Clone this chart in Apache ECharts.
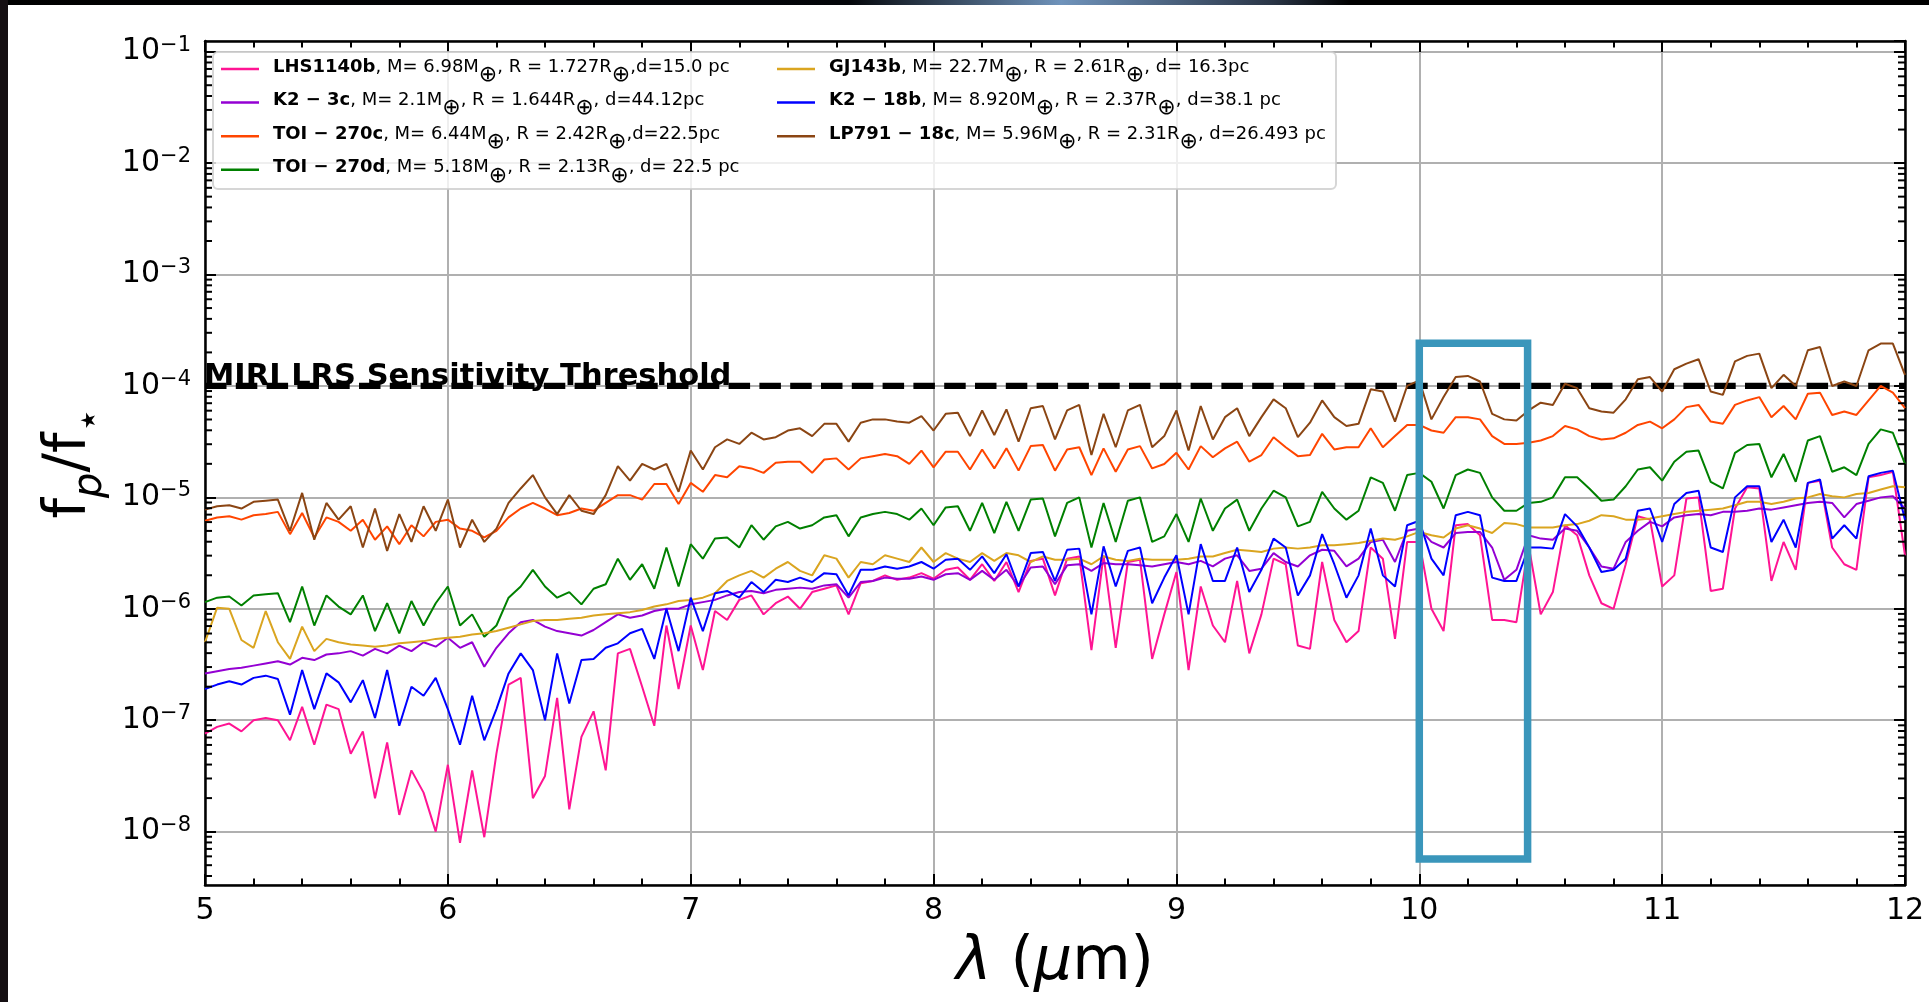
<!DOCTYPE html>
<html>
<head>
<meta charset="utf-8">
<title>Planet-to-star flux ratio, 5-12 micron</title>
<script src="https://cdn.jsdelivr.net/npm/echarts@6/dist/echarts.min.js"></script>
<style>
  html, body { margin: 0; padding: 0; background: #fff; }
  #chart { width: 1929px; height: 1002px; }
</style>
</head>
<body>
<div id="chart"></div>
<script>
(function () {
  'use strict';

  var wavelength = [
    5.00, 5.05, 5.10, 5.15, 5.20, 5.25, 5.30, 5.35, 5.40, 5.45,
    5.50, 5.55, 5.60, 5.65, 5.70, 5.75, 5.80, 5.85, 5.90, 5.95,
    6.00, 6.05, 6.10, 6.15, 6.20, 6.25, 6.30, 6.35, 6.40, 6.45,
    6.50, 6.55, 6.60, 6.65, 6.70, 6.75, 6.80, 6.85, 6.90, 6.95,
    7.00, 7.05, 7.10, 7.15, 7.20, 7.25, 7.30, 7.35, 7.40, 7.45,
    7.50, 7.55, 7.60, 7.65, 7.70, 7.75, 7.80, 7.85, 7.90, 7.95,
    8.00, 8.05, 8.10, 8.15, 8.20, 8.25, 8.30, 8.35, 8.40, 8.45,
    8.50, 8.55, 8.60, 8.65, 8.70, 8.75, 8.80, 8.85, 8.90, 8.95,
    9.00, 9.05, 9.10, 9.15, 9.20, 9.25, 9.30, 9.35, 9.40, 9.45,
    9.50, 9.55, 9.60, 9.65, 9.70, 9.75, 9.80, 9.85, 9.90, 9.95,
    10.00, 10.05, 10.10, 10.15, 10.20, 10.25, 10.30, 10.35, 10.40, 10.45,
    10.50, 10.55, 10.60, 10.65, 10.70, 10.75, 10.80, 10.85, 10.90, 10.95,
    11.00, 11.05, 11.10, 11.15, 11.20, 11.25, 11.30, 11.35, 11.40, 11.45,
    11.50, 11.55, 11.60, 11.65, 11.70, 11.75, 11.80, 11.85, 11.90, 11.95,
    12.00
  ];

  // log10(fp/f*), one value per wavelength
  var lhs1140b = [
    -7.12, -7.06, -7.03, -7.10, -7.00, -6.98, -7.00, -7.18, -6.88, -7.22,
    -6.86, -6.90, -7.30, -7.10, -7.70, -7.20, -7.85, -7.45, -7.65, -8.00,
    -7.40, -8.10, -7.45, -8.05, -7.30, -6.68, -6.62, -7.70, -7.50, -6.80,
    -7.80, -7.15, -6.92, -7.45, -6.40, -6.36, -6.70, -7.05, -6.15, -6.72,
    -6.15, -6.55, -6.02, -6.10, -5.92, -5.88, -6.05, -5.95, -5.89, -6.00,
    -5.85, -5.82, -5.79, -6.05, -5.77, -5.75, -5.70, -5.74, -5.72, -5.68,
    -5.73, -5.65, -5.63, -5.74, -5.60, -5.75, -5.58, -5.85, -5.57, -5.55,
    -5.88, -5.55, -5.53, -6.37, -5.52, -6.35, -5.58, -5.56, -6.45, -6.05,
    -5.67, -6.55, -5.80, -6.15, -6.30, -5.75, -6.40, -6.05, -5.55, -5.60,
    -6.33, -6.36, -5.58, -6.10, -6.30, -6.20, -5.45, -5.55, -6.27, -5.40,
    -5.40, -6.00, -6.20, -5.25, -5.24, -5.34, -6.10, -6.10, -6.12, -5.43,
    -6.05, -5.85, -5.25, -5.34, -5.70, -5.95, -6.00, -5.60, -5.17, -5.20,
    -5.80, -5.70, -5.01, -5.00, -5.84, -5.82, -5.10, -4.91, -4.92, -5.75,
    -5.40, -5.65, -4.87, -4.85, -5.45, -5.60, -5.65, -4.82, -4.80, -4.77,
    -5.52
  ];
  var k23c = [
    -6.58, -6.56, -6.54, -6.53, -6.51, -6.49, -6.47, -6.50, -6.44, -6.46,
    -6.41, -6.40, -6.38, -6.42, -6.36, -6.40, -6.33, -6.38, -6.30, -6.34,
    -6.26, -6.35, -6.30, -6.52, -6.35, -6.22, -6.12, -6.10, -6.16, -6.20,
    -6.22, -6.24, -6.19, -6.12, -6.05, -6.08, -6.06, -6.02, -6.00, -6.00,
    -5.96, -5.94, -5.92, -5.88, -5.85, -5.84, -5.86, -5.83, -5.82, -5.81,
    -5.82, -5.79, -5.78, -5.90, -5.76, -5.75, -5.72, -5.73, -5.73, -5.71,
    -5.74, -5.69, -5.68, -5.74, -5.66, -5.74, -5.65, -5.80, -5.63, -5.62,
    -5.78, -5.61, -5.60, -5.66, -5.59, -5.60, -5.60, -5.61, -5.62, -5.60,
    -5.58, -5.60, -5.57, -5.62, -5.55, -5.52, -5.66, -5.64, -5.50, -5.58,
    -5.62, -5.52, -5.47, -5.48, -5.62, -5.55, -5.40, -5.38, -5.58, -5.30,
    -5.28, -5.40, -5.45, -5.32, -5.31, -5.31, -5.45, -5.74, -5.65, -5.34,
    -5.37, -5.38, -5.28, -5.30, -5.45, -5.62, -5.64, -5.40, -5.30, -5.22,
    -5.26, -5.18, -5.16, -5.15, -5.16, -5.13, -5.13, -5.12, -5.10, -5.11,
    -5.09, -5.07, -5.05, -5.04, -5.05, -5.18, -5.06, -5.03, -5.00, -4.99,
    -5.10
  ];
  var toi270c = [
    -5.21, -5.18, -5.17, -5.20, -5.16, -5.15, -5.13, -5.33, -5.14, -5.36,
    -5.18, -5.22, -5.30, -5.20, -5.38, -5.26, -5.42, -5.25, -5.35, -5.22,
    -5.20, -5.28, -5.30, -5.36, -5.30, -5.18, -5.10, -5.05, -5.10, -5.16,
    -5.14, -5.10, -5.12, -5.05, -4.98, -4.98, -5.02, -4.88, -4.88, -5.06,
    -4.87, -4.95, -4.80, -4.82, -4.72, -4.74, -4.78, -4.69, -4.68, -4.68,
    -4.78, -4.66, -4.65, -4.75, -4.65, -4.63, -4.61, -4.63, -4.70, -4.58,
    -4.73, -4.59, -4.59, -4.75, -4.57, -4.74, -4.56, -4.76, -4.54, -4.53,
    -4.76, -4.57, -4.55, -4.80, -4.56, -4.77, -4.57, -4.54, -4.74, -4.70,
    -4.60, -4.75, -4.54, -4.64, -4.56, -4.50, -4.68, -4.62, -4.46, -4.55,
    -4.63, -4.62, -4.43, -4.57, -4.55, -4.55, -4.38, -4.55, -4.45, -4.35,
    -4.35, -4.40, -4.42, -4.28, -4.28, -4.30, -4.45, -4.52, -4.52, -4.51,
    -4.49, -4.45, -4.36, -4.39, -4.45, -4.48, -4.47, -4.42, -4.35, -4.32,
    -4.38, -4.30, -4.19, -4.17, -4.32, -4.34, -4.17, -4.13, -4.10, -4.28,
    -4.18, -4.30, -4.07, -4.06, -4.26, -4.23, -4.26, -4.13, -4.00, -4.06,
    -4.20
  ];
  var toi270d = [
    -5.94, -5.90, -5.89, -5.97, -5.88, -5.87, -5.86, -6.12, -5.80, -6.15,
    -5.88, -5.98, -6.05, -5.88, -6.20, -5.95, -6.22, -5.93, -6.15, -5.95,
    -5.80, -6.15, -6.05, -6.25, -6.15, -5.90, -5.80, -5.65, -5.80, -5.90,
    -5.85, -5.96, -5.82, -5.78, -5.55, -5.74, -5.60, -5.82, -5.45, -5.80,
    -5.42, -5.55, -5.37, -5.36, -5.45, -5.25, -5.38, -5.26, -5.22, -5.28,
    -5.25, -5.18, -5.16, -5.35, -5.18, -5.15, -5.13, -5.15, -5.20, -5.10,
    -5.25, -5.09, -5.08, -5.30, -5.05, -5.32, -5.04, -5.30, -5.02, -5.01,
    -5.35, -5.05, -5.00, -5.45, -5.05, -5.40, -5.03, -5.00, -5.40, -5.35,
    -5.15, -5.40, -5.01, -5.30, -5.10, -5.02, -5.30, -5.10, -4.94, -5.00,
    -5.26, -5.22, -4.95, -5.10, -5.20, -5.12, -4.82, -4.87, -5.12, -4.80,
    -4.78, -4.86, -5.10, -4.80, -4.75, -4.78, -5.00, -5.12, -5.12, -5.05,
    -5.04, -5.00, -4.82, -4.82, -4.92, -5.03, -5.02, -4.90, -4.75, -4.73,
    -4.85, -4.68, -4.59, -4.58, -4.86, -4.92, -4.60, -4.53, -4.52, -4.82,
    -4.61, -4.86, -4.49, -4.45, -4.77, -4.73, -4.80, -4.52, -4.39, -4.42,
    -4.70
  ];
  var gj143b = [
    -6.30, -5.99, -6.00, -6.28, -6.35, -6.02, -6.30, -6.45, -6.16, -6.38,
    -6.27, -6.30, -6.32, -6.33, -6.34, -6.33, -6.31, -6.30, -6.29, -6.27,
    -6.26, -6.25, -6.23, -6.22, -6.20, -6.17, -6.14, -6.11, -6.10, -6.10,
    -6.09, -6.08, -6.06, -6.05, -6.04, -6.03, -6.01, -5.98, -5.96, -5.93,
    -5.92, -5.90, -5.86, -5.75, -5.70, -5.66, -5.72, -5.64, -5.58, -5.66,
    -5.70, -5.52, -5.55, -5.72, -5.58, -5.60, -5.52, -5.55, -5.58, -5.45,
    -5.58, -5.50, -5.55, -5.58, -5.50, -5.57, -5.50, -5.52, -5.58, -5.53,
    -5.56, -5.56, -5.55, -5.60, -5.53, -5.56, -5.57, -5.55, -5.56, -5.56,
    -5.56, -5.55, -5.53, -5.53, -5.50, -5.47, -5.48, -5.49, -5.46, -5.45,
    -5.46, -5.45, -5.43, -5.43, -5.42, -5.41, -5.39, -5.37, -5.38, -5.35,
    -5.31, -5.34, -5.36, -5.28, -5.25, -5.28, -5.32, -5.23, -5.24, -5.27,
    -5.27, -5.27, -5.25, -5.24, -5.21, -5.16, -5.17, -5.20, -5.20, -5.19,
    -5.17, -5.15, -5.13, -5.12, -5.11, -5.10, -5.07, -5.04, -5.04, -5.06,
    -5.04, -5.01, -5.00, -4.97, -4.99, -5.00, -4.97, -4.96, -4.93, -4.90,
    -4.91
  ];
  var k218b = [
    -6.72, -6.68, -6.65, -6.68, -6.62, -6.60, -6.63, -6.95, -6.55, -6.90,
    -6.58, -6.66, -6.84, -6.64, -6.98, -6.55, -7.05, -6.70, -6.78, -6.62,
    -6.90, -7.22, -6.78, -7.18, -6.90, -6.58, -6.40, -6.55, -7.00, -6.40,
    -6.85, -6.46, -6.45, -6.35, -6.31, -6.22, -6.18, -6.45, -6.00, -6.38,
    -5.90, -6.20, -5.86, -5.84, -5.90, -5.76, -5.85, -5.74, -5.76, -5.72,
    -5.76, -5.68, -5.69, -5.88, -5.65, -5.65, -5.62, -5.64, -5.62, -5.58,
    -5.64, -5.56, -5.55, -5.65, -5.53, -5.68, -5.51, -5.80, -5.50, -5.49,
    -5.75, -5.47, -5.46, -6.05, -5.44, -5.80, -5.48, -5.45, -5.95, -5.72,
    -5.52, -6.05, -5.42, -5.75, -5.75, -5.45, -5.85, -5.65, -5.37, -5.45,
    -5.88, -5.70, -5.33, -5.60, -5.90, -5.70, -5.28, -5.70, -5.80, -5.25,
    -5.21, -5.55, -5.70, -5.16, -5.13, -5.16, -5.72, -5.75, -5.75, -5.45,
    -5.45, -5.46, -5.15, -5.26, -5.45, -5.67, -5.65, -5.55, -5.12, -5.10,
    -5.40, -5.06, -4.96, -4.94, -5.45, -5.49, -5.00, -4.90, -4.90, -5.40,
    -5.20, -5.45, -4.87, -4.84, -5.37, -5.25, -5.37, -4.81, -4.78, -4.76,
    -5.20
  ];
  var lp79118c = [
    -5.11, -5.08, -5.07, -5.10, -5.04, -5.03, -5.02, -5.30, -4.96, -5.38,
    -5.05, -5.20, -5.08, -5.45, -5.10, -5.48, -5.15, -5.40, -5.08, -5.30,
    -5.02, -5.45, -5.20, -5.40, -5.28, -5.05, -4.92, -4.80, -5.00, -5.15,
    -4.98, -5.12, -5.15, -4.98, -4.72, -4.85, -4.70, -4.75, -4.70, -4.95,
    -4.58, -4.75, -4.55, -4.48, -4.52, -4.42, -4.48, -4.46, -4.40, -4.38,
    -4.45, -4.34, -4.34, -4.50, -4.33, -4.30, -4.30, -4.32, -4.33, -4.27,
    -4.40, -4.25, -4.24, -4.45, -4.22, -4.44, -4.21, -4.50, -4.20, -4.18,
    -4.48, -4.22, -4.17, -4.62, -4.25, -4.55, -4.22, -4.17, -4.55, -4.45,
    -4.22, -4.58, -4.18, -4.48, -4.28, -4.20, -4.45, -4.28, -4.12, -4.20,
    -4.46, -4.33, -4.13, -4.28, -4.36, -4.34, -4.03, -4.05, -4.32, -4.00,
    -3.95, -4.30, -4.10, -3.92, -3.91, -3.96, -4.25, -4.30, -4.31, -4.22,
    -4.15, -4.17, -3.98, -4.02, -4.20, -4.23, -4.24, -4.12, -3.94, -3.92,
    -4.05, -3.85, -3.80, -3.76, -4.05, -4.08, -3.78, -3.73, -3.71, -4.02,
    -3.90, -4.00, -3.68, -3.65, -4.00, -3.96, -4.00, -3.68, -3.62, -3.62,
    -3.90
  ];

  var planetNames = ['LHS1140b', 'K2-3c', 'TOI-270c', 'TOI-270d', 'GJ143b', 'K2-18b', 'LP791-18c'];
  var planetSpectra = [lhs1140b, k23c, toi270c, toi270d, gj143b, k218b, lp79118c];
  var planetColors = ['#ff1493', '#9400d3', '#ff4500', '#008000', '#daa520', '#0000ff', '#8b4513'];
  var legendLabels = [
    '{b|LHS1140b}{t|, M= 6.98M}{o|⊕}{t|, R = 1.727R}{o|⊕}{t|,d=15.0 pc}',
    '{b|K2 − 3c}{t|, M= 2.1M}{o|⊕}{t|, R = 1.644R}{o|⊕}{t|, d=44.12pc}',
    '{b|TOI − 270c}{t|, M= 6.44M}{o|⊕}{t|, R = 2.42R}{o|⊕}{t|,d=22.5pc}',
    '{b|TOI − 270d}{t|, M= 5.18M}{o|⊕}{t|, R = 2.13R}{o|⊕}{t|, d= 22.5 pc}',
    '{b|GJ143b}{t|, M= 22.7M}{o|⊕}{t|, R = 2.61R}{o|⊕}{t|, d= 16.3pc}',
    '{b|K2 − 18b}{t|, M= 8.920M}{o|⊕}{t|, R = 2.37R}{o|⊕}{t|, d=38.1 pc}',
    '{b|LP791 − 18c}{t|, M= 5.96M}{o|⊕}{t|, R = 2.31R}{o|⊕}{t|, d=26.493 pc}'
  ];

  var thresholdFlux = 1e-4;
  var thresholdLabel = 'MIRI LRS Sensitivity Threshold';
  // highlighted window: [lambda left, flux top, lambda right, flux bottom]
  var highlightBox = [10.0, 2.42e-4, 10.446, 5.67e-9];

  var xMin = 5;
  var xMax = 12;
  var fluxMin = 3.32e-9;
  var fluxMax = 0.1247;
  var minorMantissas = [2, 3, 4, 5, 6, 7, 8, 9];
  var minorDecades = [-9, -8, -7, -6, -5, -4, -3, -2];

  var FONT = 'DejaVu Sans';

  function toPoints(exps) {
    var pts = [];
    for (var i = 0; i < wavelength.length; i++) {
      pts.push([wavelength[i], Math.pow(10, exps[i])]);
    }
    return pts;
  }

  var minorTickData = [];
  minorDecades.forEach(function (d) {
    minorMantissas.forEach(function (m) {
      var v = m * Math.pow(10, d);
      if (v > fluxMin && v < fluxMax) {
        minorTickData.push([xMin, v]);
      }
    });
  });

  function renderMinorTick(params, api) {
    var l = api.coord([xMin, api.value(1)]);
    var r = api.coord([xMax, api.value(1)]);
    var st = { stroke: '#000', lineWidth: 2 };
    return {
      type: 'group',
      children: [
        { type: 'line', shape: { x1: l[0], y1: l[1], x2: l[0] + 7, y2: l[1] }, style: st },
        { type: 'line', shape: { x1: r[0] - 7, y1: r[1], x2: r[0], y2: r[1] }, style: st }
      ]
    };
  }

  function renderBox(params, api) {
    var a = api.coord([api.value(0), api.value(1)]);
    var b = api.coord([api.value(2), api.value(3)]);
    return {
      type: 'rect',
      shape: { x: a[0], y: a[1], width: b[0] - a[0], height: b[1] - a[1] },
      style: { fill: 'none', stroke: '#3a96bb', lineWidth: 7.5 }
    };
  }

  function decadeLabel(v) {
    var e = Math.round(Math.log(v) / Math.LN10);
    return '{b|10}{s|' + (e < 0 ? '\u2212' : '') + Math.abs(e) + '}';
  }

  var legendRich = {
    b: { fontFamily: FONT, fontWeight: 'bold', fontSize: 18, lineHeight: 22, verticalAlign: 'top', padding: [0, 0, 0, 9], color: '#000' },
    t: { fontFamily: FONT, fontSize: 18, lineHeight: 22, verticalAlign: 'top', color: '#000' },
    o: { fontFamily: FONT, fontSize: 22, lineHeight: 22, verticalAlign: 'top', padding: [6, 0, 0, 0], color: '#000' }
  };

  function makeLegend(names, left) {
    return {
      data: names.map(function (n) { return { name: n, icon: 'rect' }; }),
      orient: 'vertical',
      left: left,
      top: 58,
      padding: 0,
      itemGap: 5.6,
      itemWidth: 38,
      itemHeight: 2.5,
      selectedMode: false,
      z: 10,
      formatter: function (name) {
        return legendLabels[planetNames.indexOf(name)];
      },
      textStyle: { fontFamily: FONT, fontSize: 18, rich: legendRich }
    };
  }

  var series = planetNames.map(function (name, i) {
    return {
      name: name,
      type: 'line',
      data: toPoints(planetSpectra[i]),
      symbol: 'none',
      showSymbol: false,
      color: planetColors[i],
      lineStyle: { color: planetColors[i], width: 2 },
      z: 3,
      silent: true,
      emphasis: { disabled: true }
    };
  });

  series.unshift({
    name: 'threshold',
    type: 'line',
    data: [[xMin, thresholdFlux], [xMax, thresholdFlux]],
    symbol: 'none',
    showSymbol: false,
    lineStyle: { color: '#000', width: 6.2, type: [21.5, 9.3] },
    z: 2,
    silent: true
  });

  series.push({
    type: 'custom',
    name: 'window',
    renderItem: renderBox,
    encode: { x: [0, 2], y: [1, 3] },
    data: [highlightBox],
    z: 8,
    silent: true,
    clip: false
  });

  series.push({
    type: 'custom',
    name: 'minor ticks',
    renderItem: renderMinorTick,
    data: minorTickData,
    z: 9,
    silent: true,
    clip: false
  });

  var tickStyle = { color: '#000', width: 2 };
  var spine = { show: true, onZero: false, lineStyle: { color: '#000', width: 2.5 } };

  var graphics = [{
    type: 'rect',
    z: 5,
    shape: { x: 213, y: 52, width: 1123, height: 137, r: 5 },
    style: { fill: 'rgba(255,255,255,0.8)', stroke: 'rgba(204,204,204,0.8)', lineWidth: 2 }
  }, {
    type: 'rect',
    z: 100,
    shape: { x: 0, y: 0, width: 1929, height: 5 },
    style: {
      fill: {
        type: 'linear', x: 0, y: 0, x2: 1, y2: 0,
        colorStops: [
          { offset: 0, color: '#000' },
          { offset: 0.44, color: '#04060a' },
          { offset: 0.55, color: '#6f93bb' },
          { offset: 0.66, color: '#2a3546' },
          { offset: 0.7, color: '#000' },
          { offset: 1, color: '#000' }
        ]
      }
    }
  }, {
    type: 'rect',
    z: 100,
    shape: { x: 0, y: 0, width: 8, height: 1002 },
    style: { fill: '#150f12' }
  }];

  var option = {
    animation: false,
    backgroundColor: '#fff',
    textStyle: { fontFamily: FONT },
    grid: { left: 205, top: 41, width: 1700, height: 844 },
    legend: [makeLegend(planetNames.slice(0, 4), 221), makeLegend(planetNames.slice(4), 777)],
    xAxis: [{
      type: 'value',
      min: xMin,
      max: xMax,
      interval: 1,
      position: 'bottom',
      axisLine: spine,
      axisTick: { show: true, inside: true, length: 11, lineStyle: tickStyle },
      minorTick: { show: true, splitNumber: 5, length: 6.5, lineStyle: tickStyle },
      splitLine: { show: true, lineStyle: { color: '#b0b0b0', width: 2 } },
      axisLabel: { color: '#000', fontFamily: FONT, fontSize: 30, margin: 11 },
      name: '{i|λ}{n| (}{i|μ}{n|m)}',
      nameLocation: 'middle',
      nameGap: 48,
      nameTextStyle: {
        rich: {
          i: { fontFamily: FONT, fontStyle: 'italic', fontSize: 60, lineHeight: 60, color: '#000' },
          n: { fontFamily: FONT, fontSize: 60, lineHeight: 60, color: '#000' }
        }
      }
    }, {
      type: 'value',
      min: xMin,
      max: xMax,
      interval: 1,
      position: 'top',
      axisLine: spine,
      axisTick: { show: true, inside: true, length: 11, lineStyle: tickStyle },
      minorTick: { show: true, splitNumber: 5, length: 6.5, lineStyle: tickStyle },
      splitLine: { show: false },
      axisLabel: { show: false }
    }],
    yAxis: [{
      type: 'log',
      logBase: 10,
      min: fluxMin,
      max: fluxMax,
      position: 'left',
      axisLine: spine,
      axisTick: { show: true, inside: true, length: 11, lineStyle: tickStyle },
      splitLine: { show: true, lineStyle: { color: '#b0b0b0', width: 2 } },
      axisLabel: {
        color: '#000',
        margin: 14,
        showMinLabel: false,
        showMaxLabel: false,
        formatter: decadeLabel,
        rich: {
          b: { fontFamily: FONT, fontSize: 30, lineHeight: 30, verticalAlign: 'bottom', color: '#000' },
          s: { fontFamily: FONT, fontSize: 21, lineHeight: 21, padding: [0, 0, 11, 0], verticalAlign: 'bottom', color: '#000' }
        }
      },
      name: '{f|f}{p|p}{f|/f}{q|⋆}',
      nameLocation: 'middle',
      nameRotate: 90,
      nameGap: 98,
      nameTextStyle: {
        rich: {
          f: { fontFamily: FONT, fontSize: 58, lineHeight: 62, verticalAlign: 'top', color: '#000' },
          p: { fontFamily: FONT, fontStyle: 'italic', fontSize: 40, lineHeight: 40, padding: [30, 0, 0, 0], verticalAlign: 'top', color: '#000' },
          q: { fontFamily: FONT, fontSize: 40, lineHeight: 40, padding: [30, 0, 0, 0], verticalAlign: 'top', color: '#000' }
        }
      }
    }, {
      type: 'log',
      logBase: 10,
      min: fluxMin,
      max: fluxMax,
      position: 'right',
      axisLine: spine,
      axisTick: { show: true, inside: true, length: 11, lineStyle: tickStyle },
      splitLine: { show: false },
      axisLabel: { show: false }
    }],
    graphic: graphics,
    series: series
  };

  var chart = echarts.init(document.getElementById('chart'), null, { renderer: 'canvas' });
  chart.setOption(option);

  // threshold caption sits on the dashed line, anchored through the axes
  var anchor = chart.convertToPixel({ xAxisIndex: 0, yAxisIndex: 0 }, [xMin, thresholdFlux]);
  graphics.push({
    type: 'text',
    z: 6,
    x: anchor[0] - 1,
    y: anchor[1] + 7,
    style: {
      text: thresholdLabel,
      fill: '#000',
      fontFamily: FONT,
      fontWeight: 'bold',
      fontSize: 30.5,
      align: 'left',
      verticalAlign: 'bottom'
    }
  });
  chart.setOption({ graphic: graphics });
}());
</script>
</body>
</html>
